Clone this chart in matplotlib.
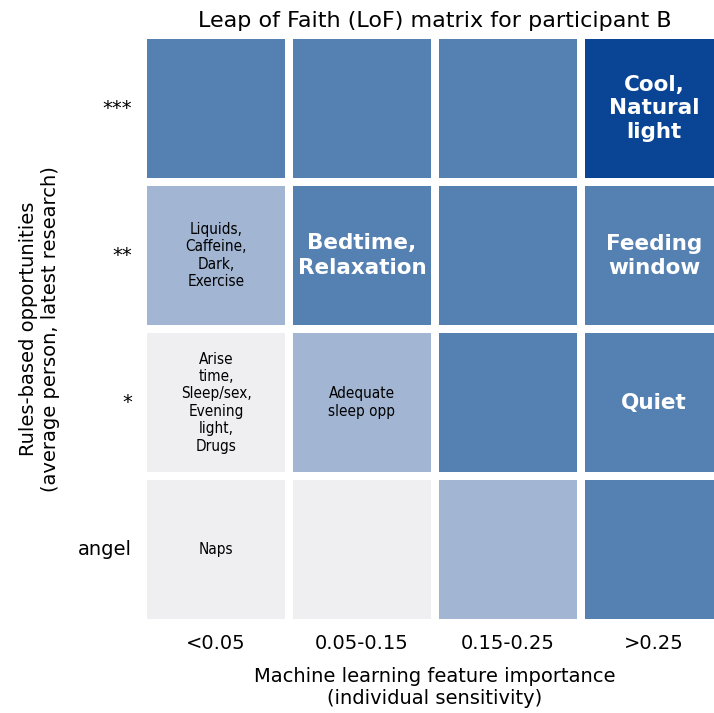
import numpy as np
import pandas as pd
import seaborn as sns
from matplotlib import pyplot as plt
from matplotlib.colors import ListedColormap

# data
rows = ["***", "**", "*", "angel"]
cols = ["<0.05", "0.05-0.15", "0.15-0.25", ">0.25"]
levels = [
    [2, 2, 2, 3],
    [1, 2, 2, 2],
    [0, 1, 2, 2],
    [0, 0, 1, 2],
]
notes = [
    ["", "", "", "Cool,\nNatural\nlight"],
    ["Liquids,\nCaffeine,\nDark,\nExercise", "Bedtime,\nRelaxation", "", "Feeding\nwindow"],
    ["Arise\ntime,\nSleep/sex,\nEvening\nlight,\nDrugs", "Adequate\nsleep opp", "", "Quiet"],
    ["Naps", "", "", ""],
]

df = pd.DataFrame(levels, index=rows, columns=cols)
cmap = ListedColormap(["#efeff2", "#a2b6d4", "#5580b2", "#0a4494"])

fig = plt.figure(figsize=(7.14, 7.13), dpi=100)
ax = fig.add_axes([143 / 714, 1 - 623 / 713, 584 / 714, 588 / 713])
sns.heatmap(df, cmap=cmap, vmin=-0.5, vmax=3.5, cbar=False, linewidths=4.5,
            linecolor="white", ax=ax)

for i in range(len(rows)):
    for j in range(len(cols)):
        txt = notes[i][j]
        if not txt:
            continue
        if levels[i][j] >= 2:
            ax.text(j + 0.5, i + 0.5, txt, ha="center", va="center", color="white",
                    fontsize=15.5, fontweight="bold", linespacing=1.25)
        else:
            ax.text(j + 0.5, i + 0.5, txt, ha="center", va="center", color="black",
                    fontsize=11, fontstretch="condensed",
                    family=["DejaVu Sans Condensed", "DejaVu Sans"])

ax.set_yticklabels(rows, rotation=0, fontsize=14)
ax.set_xticklabels(cols, rotation=0, fontsize=14)
ax.tick_params(axis="y", length=0, pad=8)
ax.tick_params(axis="x", length=0, pad=8)
ax.set_xlabel("Machine learning feature importance\n(individual sensitivity)", fontsize=14,
              labelpad=10)
ax.set_ylabel("Rules-based opportunities\n(average person, latest research)", fontsize=14,
              labelpad=13)
ax.set_title("Leap of Faith (LoF) matrix for participant B", fontsize=16, pad=6)

plt.savefig("out.png", dpi=100)
